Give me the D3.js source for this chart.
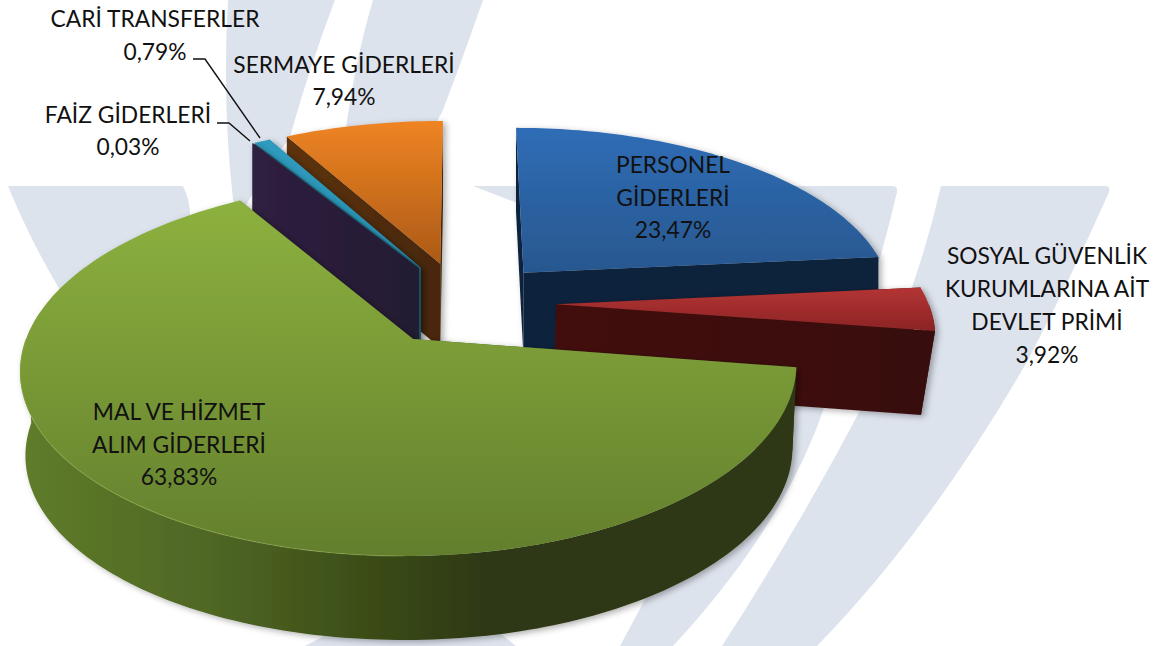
<!DOCTYPE html>
<html lang="tr">
<head>
<meta charset="utf-8">
<style>
html,body{margin:0;padding:0;background:#fff;width:1160px;height:646px;overflow:hidden}
svg{display:block}
text{font-family:"Lato","Open Sans",sans-serif;font-size:22.8px;fill:#111;text-anchor:middle}
</style>
</head>
<body>
<svg id="c" width="1160" height="646"></svg>
<script src="https://cdnjs.cloudflare.com/ajax/libs/d3/7.8.5/d3.min.js"></script>
<script>
// ---- data ----
const categories = ["PERSONEL GİDERLERİ","SOSYAL GÜVENLİK KURUMLARINA AİT DEVLET PRİMİ","MAL VE HİZMET ALIM GİDERLERİ","FAİZ GİDERLERİ","CARİ TRANSFERLER","SERMAYE GİDERLERİ"];
const values = [23.47,3.92,63.83,0.03,0.79,7.94];
const valueLabels = ["23,47%","3,92%","63,83%","0,03%","0,79%","7,94%"];
const labelLines = [["PERSONEL","GİDERLERİ"],["SOSYAL GÜVENLİK","KURUMLARINA AİT","DEVLET PRİMİ"],["MAL VE HİZMET","ALIM GİDERLERİ"],["FAİZ GİDERLERİ"],["CARİ TRANSFERLER"],["SERMAYE GİDERLERİ"]];

// ---- layout & style ----
const labelCentre = [[673,173],[1047,264],[179,420],[128,123],[155,27],[344,73]];
const lineHeights = [32.5,33,32.5,32,33,32];
const topColours = [["#2f6db6","#28578f"],["#b43434","#8b2425"],["#8db13f","#637f2d"],["#2e1f3f","#2e1f3f"],["#2e9cbf","#2a8fb0"],["#ef8423","#ab5a17"]];
const sideColours = [["#11243c","#11233a"],["#431010","#380d0d"],["#5e7b2b","#2a3511"],["#2f2040","#231a32"],["#1f6a80","#1f6a80"],["#5e330f","#472709"]];
const wallStops = [[0,"#5f7c2a"],[0.25,"#4f6624"],[0.45,"#3b4c18"],[0.6,"#2d3812"],[1,"#2d3812"]];
const drawOrder = [0,5,4,3,1,2];
const taper = [0,0.03,0.012,0,0,0];
const nudgeX = [0,2,0,0,0,-3];
const radius = [1,1,0.988,1,1,1];
const leaderPaths = [[4,[[193,59],[205,59],[260,138]]],[3,[[217,123],[229,123],[250,141]]]];

const cx=465, cy=303, aLeft=380, aRight=372, b=175, p=0.15, explode=0.24, depth=84;

const svg=d3.select("#c");
const defs=svg.append("defs");
const f=defs.append("filter").attr("id","sh").attr("x","-5%").attr("y","-5%").attr("width","112%").attr("height","112%");
f.append("feDropShadow").attr("dx",3).attr("dy",2).attr("stdDeviation",3).attr("flood-color","#000").attr("flood-opacity",0.32);

// background watermark
const wm=svg.append("g").attr("fill","#dde3ed");
[
 "M8,186 L183,186 Q190,200 190,215 L150,240 L60,290 Q30,240 8,186Z",
 "M228,0 L335,0 Q310,65 290,137 L270,165 L240,215 L233,200 Q222,100 228,0Z",
 "M373,0 L483,0 Q462,60 443,110 L430,135 L345,135 Q355,60 373,0Z",
 "M473,186 L892,186 Q898,186 897,192 Q870,310 825,405 Q785,525 673,646 L620,646 L650,590 L530,350 L525,206Z",
 "M941,186 L1105,186 Q1111,186 1109,192 Q1070,280 1028,360 Q930,530 817,646 L722,646 Q800,525 863,405 Q915,300 941,186Z",
 "M305,646 L345,625 L490,625 L516,646Z"
].forEach(d=>wm.append("path").attr("d",d));

// pie through d3 layout
const pie=d3.pie().sort(null).value(d=>d)(values);
const xS=d3.scaleLinear().domain([-1,0,1]).range([cx-aLeft,cx,cx+aRight]);
const yS=d3.scaleLinear().domain([-1,1]).range([cy+b,cy-b]);
function proj(X,Y,Z,q,dx){
  const w=1+p*Y;
  return [cx+(xS(X)-cx)/w*(1-q*Z)+dx, cy+(yS(Y)-cy)/w+depth*Z];
}
const line=d3.line();
function arcPts(t0,t1,o,Z,q,dx,r){
  const n=Math.max(2,Math.ceil((t1-t0)/0.02));
  return d3.range(n+1).map(i=>{const t=t0+(t1-t0)*i/n;return proj(o[0]+r*Math.sin(t),o[1]+r*Math.cos(t),Z,q,dx);});
}
function grad(id,stops,x1,y1,x2,y2){
  const g=defs.append("linearGradient").attr("id",id).attr("gradientUnits","userSpaceOnUse")
    .attr("x1",x1).attr("y1",y1).attr("x2",x2).attr("y2",y2);
  stops.forEach(s=>g.append("stop").attr("offset",s[0]).attr("stop-color",s[1]));
  return `url(#${id})`;
}
const two=c=>[[0,c[0]],[1,c[1]]];
const layer=svg.append("g");
drawOrder.forEach(i=>{
  const d=pie[i], mid=(d.startAngle+d.endAngle)/2, q=taper[i], dx=nudgeX[i], r=radius[i];
  const o=[explode*Math.sin(mid),explode*Math.cos(mid)];
  const g=layer.append("g").attr("filter","url(#sh)");
  const apex=proj(o[0],o[1],0,q,dx);
  const topRim=arcPts(d.startAngle,d.endAngle,o,0,q,dx,r);
  const allX=topRim.map(e=>e[0]).concat(apex[0]), allY=topRim.map(e=>e[1]).concat(apex[1]);
  const fillTop=grad("t"+i,two(topColours[i]),0,d3.min(allY),0,d3.max(allY));
  const fillSide=grad("s"+i,two(sideColours[i]),d3.min(allX),0,d3.max(allX),0);
  // cut faces
  [d.startAngle,d.endAngle].forEach(t=>{
    const rx=o[0]+r*Math.sin(t), ry=o[1]+r*Math.cos(t);
    const pts=[apex,proj(rx,ry,0,q,dx),proj(rx,ry,1,q,dx),proj(o[0],o[1],1,q,dx)];
    g.append("path").attr("d",line(pts)+"Z").attr("fill",fillSide);
  });
  // outer wall, only the part that faces the viewer
  const s0=Math.max(d.startAngle,Math.PI/2), s1=Math.min(d.endAngle,3*Math.PI/2);
  if(s1>s0){
    const pts=arcPts(s0,s1,o,0,q,dx,r).concat(arcPts(s0,s1,o,1,q,dx,r).reverse());
    const wall=i===2?grad("wall",wallStops,20,0,800,0):fillSide;
    g.append("path").attr("d",line(pts)+"Z").attr("fill",wall);
  }
  g.append("path").attr("d",line([apex].concat(topRim))+"Z").attr("fill",fillTop);
  if(i===2){
    // soft highlight along the front-left rim
    g.append("path").attr("d",line(arcPts(Math.PI,1.5*Math.PI,o,0,q,dx,r))).attr("fill","none")
      .attr("stroke","#a6c45c").attr("stroke-width",1.2).attr("stroke-opacity",0.35);
  }
});

// leaders
leaderPaths.forEach(l=>{
  svg.append("path").attr("d",line(l[1])).attr("fill","none").attr("stroke","#111").attr("stroke-width",1.4);
});

// labels
categories.forEach((c,i)=>{
  const t=svg.append("text").attr("aria-label",c);
  labelLines[i].concat(valueLabels[i]).forEach((s,k)=>{
    t.append("tspan").attr("x",labelCentre[i][0]).attr("y",labelCentre[i][1]+k*lineHeights[i]).text(s);
  });
});
</script>
</body>
</html>
